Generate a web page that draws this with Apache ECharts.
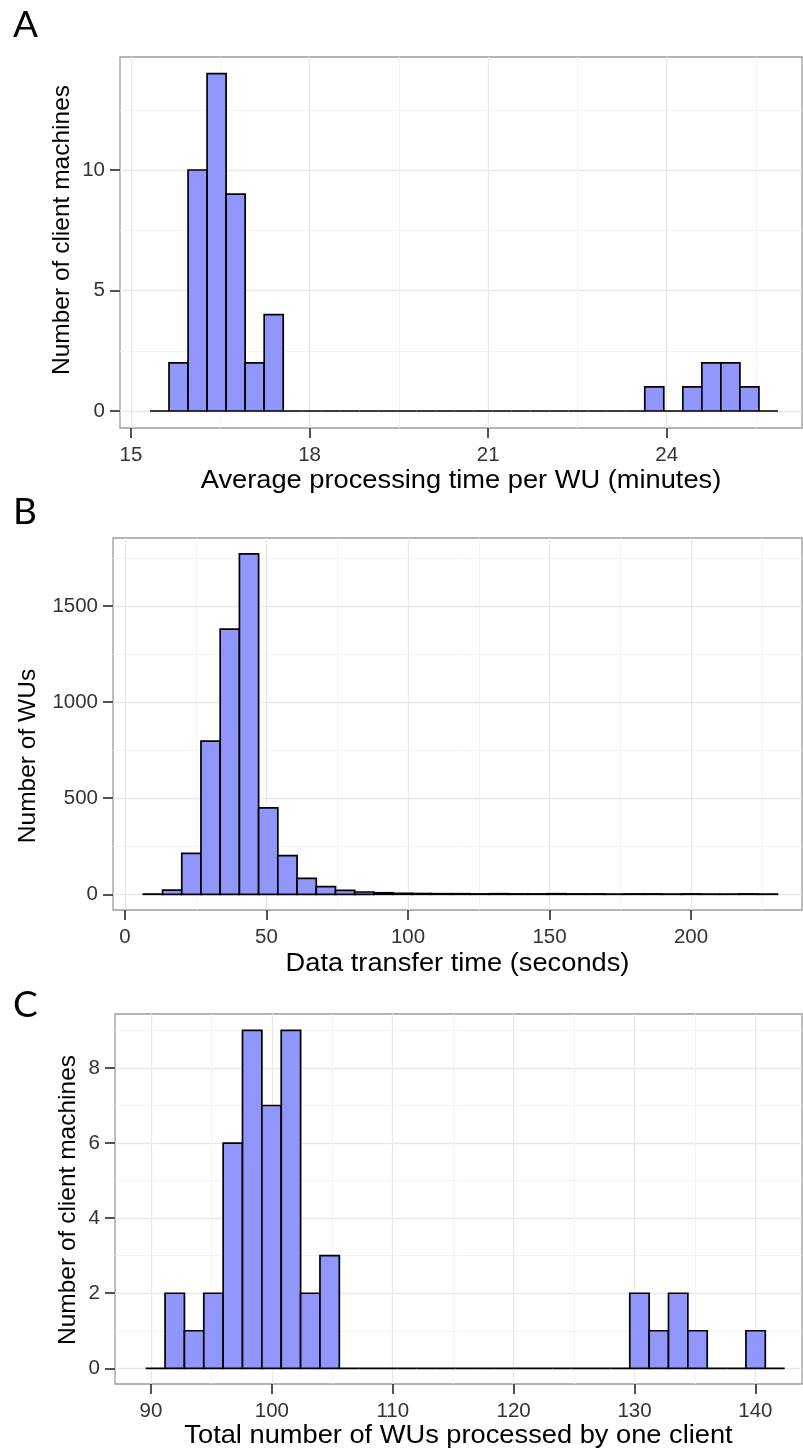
<!DOCTYPE html>
<html>
<head>
<meta charset="utf-8">
<script src="https://cdn.jsdelivr.net/npm/echarts@6/dist/echarts.min.js"></script>
<style>
html,body{margin:0;padding:0;background:#fff;}
#chart{width:803px;height:1450px;}
</style>
</head>
<body>
<div id="chart"></div>
<script>
// ---------- DATA ----------
// Panel A: average processing time per WU (minutes)
const aBinStart = 15.319;
const aBinWidth = 0.3197;
const aCounts = [0, 2, 10, 14, 9, 2, 4, 0, 0, 0, 0, 0, 0, 0, 0, 0, 0, 0, 0, 0, 0, 0, 0, 0, 0, 0, 1, 0, 1, 2, 2, 1, 0];
const aXTicks = [15, 18, 21, 24];
const aXMinor = [16.5, 19.5, 22.5, 25.5];
const aYTicks = [0, 5, 10];
const aYMinor = [2.5, 7.5, 12.5];

// Panel B: data transfer time (seconds)
const bBinStart = 6.47;
const bBinWidth = 6.79;
const bCounts = [1, 22, 213, 797, 1380, 1771, 450, 201, 83, 40, 20, 12, 8, 5, 4, 3, 3, 2, 3, 2, 2, 3, 2, 2, 1, 2, 2, 1, 2, 1, 1, 2, 1];
const bXTicks = [0, 50, 100, 150, 200];
const bXMinor = [25, 75, 125, 175, 225];
const bYTicks = [0, 500, 1000, 1500];
const bYMinor = [250, 750, 1250, 1750];

// Panel C: total number of WUs processed by one client
const cBinStart = 89.56;
const cBinWidth = 1.602;
const cCounts = [0, 2, 1, 2, 6, 9, 7, 9, 2, 3, 0, 0, 0, 0, 0, 0, 0, 0, 0, 0, 0, 0, 0, 0, 0, 2, 1, 2, 1, 0, 0, 1, 0];
const cXTicks = [90, 100, 110, 120, 130, 140];
const cXMinor = [95, 105, 115, 125, 135];
const cYTicks = [0, 2, 4, 6, 8];
const cYMinor = [1, 3, 5, 7, 9];

const panelLetters = ['A', 'B', 'C'];
const xTitles = ['Average processing time per WU (minutes)', 'Data transfer time (seconds)', 'Total number of WUs processed by one client'];
const yTitles = ['Number of client machines', 'Number of WUs', 'Number of client machines'];

// ---------- STYLE / LAYOUT ----------
const FILL = '#9096fc';
const FONT = '"Liberation Sans", Arial, sans-serif';
const panels = [
  {grid: {left: 120, top: 57, right: 1, height: 371}, xr: [14.815, 26.273], yr: [-0.705, 14.69],
   start: aBinStart, width: aBinWidth, counts: aCounts, xt: aXTicks, xm: aXMinor, yt: aYTicks, ym: aYMinor,
   letterY: 37, xTitleY: 481, yTitle: [62, 230]},
  {grid: {left: 113, top: 538, right: 1, height: 372}, xr: [-4.24, 239.2], yr: [-81.7, 1853.8],
   start: bBinStart, width: bBinWidth, counts: bCounts, xt: bXTicks, xm: bXMinor, yt: bYTicks, ym: bYMinor,
   letterY: 524, xTitleY: 964, yTitle: [28, 756]},
  {grid: {left: 115, top: 1014, right: 1, height: 370}, xr: [87.02, 143.86], yr: [-0.418, 9.438],
   start: cBinStart, width: cBinWidth, counts: cCounts, xt: cXTicks, xm: cXMinor, yt: cYTicks, ym: cYMinor,
   letterY: 1017, xTitleY: 1436, yTitle: [68, 1200]}
];

const grids = [], xAxes = [], yAxes = [], series = [], graphics = [];

function renderBar(params, api) {
  const x0 = api.value(0), x1 = api.value(1), c = api.value(2);
  const p0 = api.coord([x0, 0]);
  const p1 = api.coord([x1, c]);
  return {
    type: 'rect',
    shape: {x: p0[0], y: p1[1], width: p1[0] - p0[0], height: p0[1] - p1[1]},
    style: {fill: c > 0 ? FILL : null, stroke: '#000', lineWidth: 1.7}
  };
}

function majorAxis(gi, range, ticks, isX) {
  return {
    type: 'value', gridIndex: gi, min: range[0], max: range[1],
    position: isX ? 'bottom' : 'left',
    axisLine: {show: false, onZero: false},
    axisTick: {show: true, length: 10, inside: false, customValues: ticks, lineStyle: {color: '#333', width: 1.7}},
    axisLabel: {show: true, customValues: ticks, margin: isX ? 17 : 15, color: '#333', fontSize: 20.5, fontFamily: FONT,
      formatter: v => String(v)},
    splitLine: {show: true, lineStyle: {color: '#e8e8e8', width: 1.3}},
    minorTick: {show: false}
  };
}
function minorAxis(gi, range, ticks, isX) {
  return {
    type: 'value', gridIndex: gi, min: range[0], max: range[1],
    position: isX ? 'bottom' : 'left',
    axisLine: {show: false, onZero: false},
    axisTick: {show: false, customValues: ticks},
    axisLabel: {show: false, customValues: ticks},
    splitLine: {show: true, lineStyle: {color: '#f3f3f3', width: 1}}
  };
}

panels.forEach((p, i) => {
  grids.push(Object.assign({show: true, borderColor: '#9c9c9c', borderWidth: 1.3, backgroundColor: '#fff'}, p.grid));
  xAxes.push(majorAxis(i, p.xr, p.xt, true));
  xAxes.push(minorAxis(i, p.xr, p.xm, true));
  yAxes.push(majorAxis(i, p.yr, p.yt, false));
  yAxes.push(minorAxis(i, p.yr, p.ym, false));
  const data = p.counts.map((c, k) => [p.start + k * p.width, p.start + (k + 1) * p.width, c]);
  series.push({
    type: 'custom', xAxisIndex: 2 * i, yAxisIndex: 2 * i,
    renderItem: renderBar, data: data, encode: {x: [0, 1], y: 2}, clip: false, z: 5,
    silent: true
  });
  const cx = p.grid.left + (803 - p.grid.right - p.grid.left) / 2;
  graphics.push({type: 'text', left: 13, top: p.letterY - 30, style: {text: panelLetters[i], font: '37px Lato, "Open Sans", sans-serif', fill: '#000'}});
  graphics.push({type: 'text', x: cx, y: p.xTitleY, scaleX: 1.09, style: {text: xTitles[i], font: '25px ' + FONT, fill: '#000', align: 'center', verticalAlign: 'middle'}});
  graphics.push({type: 'text', x: p.yTitle[0], y: p.yTitle[1], rotation: Math.PI / 2,
    style: {text: yTitles[i], font: '24.5px ' + FONT, fill: '#000', align: 'center', verticalAlign: 'middle'}});
});

const chart = echarts.init(document.getElementById('chart'), null, {renderer: 'canvas'});
chart.setOption({
  animation: false,
  backgroundColor: '#fff',
  grid: grids,
  xAxis: xAxes,
  yAxis: yAxes,
  series: series,
  graphic: graphics
});
</script>
</body>
</html>
